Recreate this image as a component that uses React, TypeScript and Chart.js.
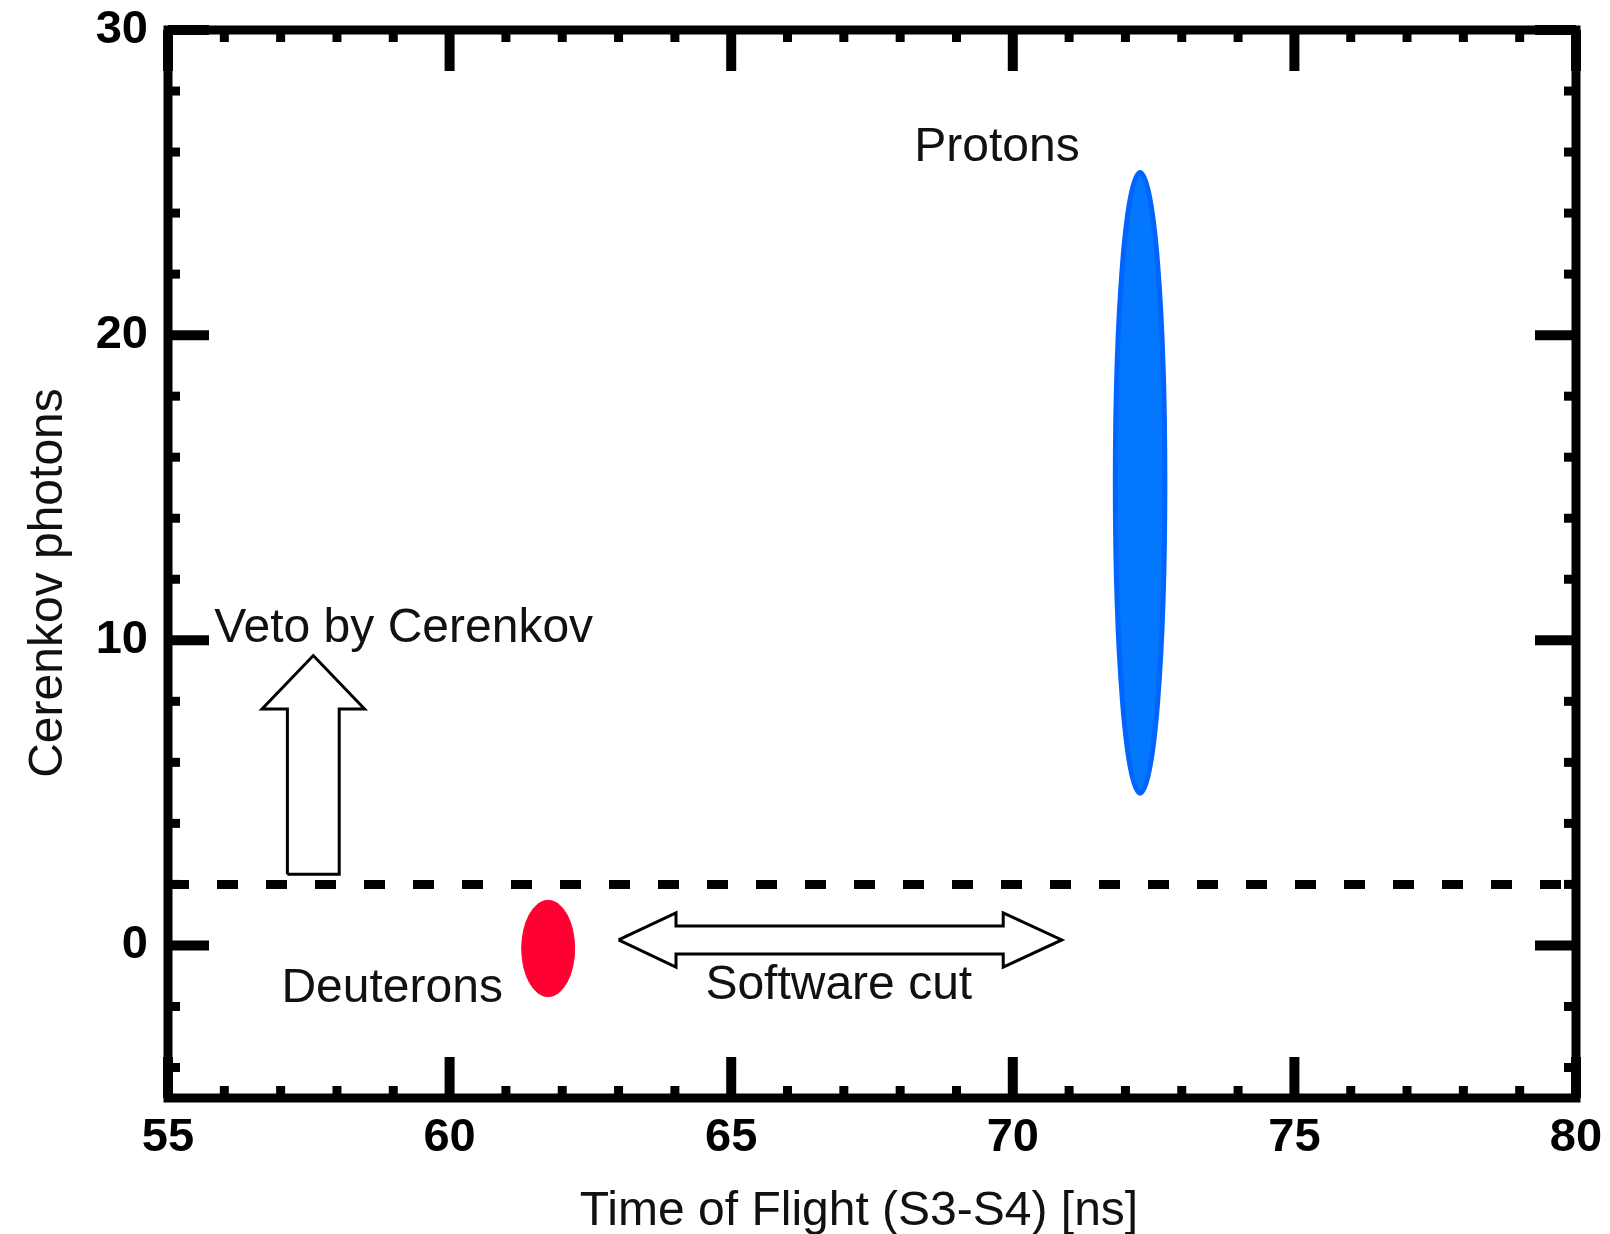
import { useEffect, useRef } from 'react';
import { Chart, registerables } from 'chart.js';

Chart.register(...registerables);

// ---- axes ----
const xLimits = [55, 80];
const yLimits = [-5, 30];
const xTickValues = [55, 60, 65, 70, 75, 80];
const yTickValues = [0, 10, 20, 30];
const xMinorStep = 1;
const yMinorStep = 2;
const xTitle = 'Time of Flight (S3-S4) [ns]';
const yTitle = 'Cerenkov photons';

// ---- Cerenkov veto threshold (dashed line) ----
const thresholdX = [55, 80];
const thresholdY = [2, 2];

// ---- particle populations (ellipses): centre and semi-axes in data units ----
const populationNames = ['Protons', 'Deuterons'];
const populationX = [72.26, 61.75];
const populationY = [15.16, -0.1];
const populationHalfWidth = [0.44, 0.47];
const populationHalfHeight = [10.17, 1.58];

// ---- "Veto by Cerenkov" arrow outline ----
const vetoArrowX = [57.12, 58.04, 58.04, 58.49, 57.58, 56.67, 57.12, 57.12];
const vetoArrowY = [2.33, 2.33, 7.75, 7.75, 9.5, 7.75, 7.75, 2.33];

// ---- "Software cut" double arrow outline ----
const cutArrowX = [63.0, 64.02, 64.02, 69.83, 69.83, 70.87, 69.83, 69.83, 64.02, 64.02, 63.0];
const cutArrowY = [0.18, 1.07, 0.64, 0.64, 1.07, 0.18, -0.71, -0.28, -0.28, -0.71, 0.18];

// ---- text labels ----
const labelTexts = ['Protons', 'Veto by Cerenkov', 'Deuterons', 'Software cut'];
const labelX = [69.72, 55.82, 58.98, 66.91];
const labelY = [25.7, 9.93, -1.84, -1.74];

// ---- styles ----
const populationStyle = [
  { fill: '#0477ff', stroke: '#0064ff', width: 5 },
  { fill: '#ff0033', stroke: '#ff0033', width: 1 },
];
const labelAlign: CanvasTextAlign[] = ['center', 'left', 'center', 'center'];
const TEXT_FONT = '48px "Liberation Sans", Arial, sans-serif';
const TEXT_COLOR = '#111';

const toPts = (xs: number[], ys: number[]) => xs.map((x, i) => ({ x, y: ys[i] }));

const ellipsePlugin = {
  id: 'populations',
  beforeDatasetsDraw(chart: any) {
    const { ctx } = chart;
    const xs = chart.scales.x;
    const ys = chart.scales.y;
    populationNames.forEach((_, i) => {
      const cx = xs.getPixelForValue(populationX[i]);
      const cy = ys.getPixelForValue(populationY[i]);
      const rx = Math.abs(xs.getPixelForValue(populationX[i] + populationHalfWidth[i]) - cx);
      const ry = Math.abs(ys.getPixelForValue(populationY[i] + populationHalfHeight[i]) - cy);
      const st = populationStyle[i];
      ctx.save();
      ctx.beginPath();
      ctx.ellipse(cx, cy, rx, ry, 0, 0, Math.PI * 2);
      ctx.fillStyle = st.fill;
      ctx.fill();
      ctx.lineWidth = st.width;
      ctx.strokeStyle = st.stroke;
      ctx.stroke();
      ctx.restore();
    });
  },
};

const labelPlugin = {
  id: 'labels',
  afterDatasetsDraw(chart: any) {
    const { ctx } = chart;
    const xs = chart.scales.x;
    const ys = chart.scales.y;
    ctx.save();
    ctx.font = TEXT_FONT;
    ctx.fillStyle = TEXT_COLOR;
    ctx.textBaseline = 'alphabetic';
    labelTexts.forEach((t, i) => {
      ctx.textAlign = labelAlign[i];
      ctx.fillText(t, xs.getPixelForValue(labelX[i]), ys.getPixelForValue(labelY[i]));
    });
    // axis titles
    const { left, right, top, bottom } = chart.chartArea;
    ctx.textAlign = 'center';
    ctx.fillText(xTitle, (left + right) / 2 - 13, 1225);
    ctx.translate(62, (top + bottom) / 2 + 19);
    ctx.rotate(-Math.PI / 2);
    ctx.fillText(yTitle, 0, 0);
    ctx.restore();
  },
};

const framePlugin = {
  id: 'frame',
  afterDraw(chart: any) {
    const { ctx } = chart;
    const { left, right, top, bottom } = chart.chartArea;
    const xs = chart.scales.x;
    const ys = chart.scales.y;
    const MAJOR = 41;
    const MINOR = 12;
    ctx.save();
    ctx.strokeStyle = '#000';
    ctx.lineCap = 'butt';
    const seg = (x1: number, y1: number, x2: number, y2: number) => {
      ctx.beginPath();
      ctx.moveTo(x1, y1);
      ctx.lineTo(x2, y2);
      ctx.stroke();
    };
    for (let v = xLimits[0]; v <= xLimits[1] + 1e-9; v += xMinorStep) {
      const major = xTickValues.includes(v);
      const px = xs.getPixelForValue(v);
      const len = major ? MAJOR : MINOR;
      ctx.lineWidth = major ? 10 : 9;
      seg(px, bottom, px, bottom - len);
      seg(px, top, px, top + len);
    }
    const yStart = Math.ceil(yLimits[0] / yMinorStep) * yMinorStep;
    for (let v = yStart; v <= yLimits[1] + 1e-9; v += yMinorStep) {
      const major = yTickValues.includes(v);
      const py = ys.getPixelForValue(v);
      const len = major ? MAJOR : MINOR;
      ctx.lineWidth = major ? 10 : 9;
      seg(left, py, left + len, py);
      seg(right, py, right - len, py);
    }
    ctx.lineWidth = 9;
    ctx.lineJoin = 'miter';
    ctx.strokeRect(left, top, right - left, bottom - top);
    ctx.restore();
  },
};

const tickFont = { family: '"Liberation Sans", Arial, sans-serif', size: 47, weight: 'bold' as const };

export default function App() {
  const ref = useRef<HTMLCanvasElement>(null);
  useEffect(() => {
    const canvas = ref.current;
    if (!canvas) return;
    const chart = new Chart(canvas, {
      type: 'scatter',
      data: {
        datasets: [
          {
            label: 'Cerenkov threshold',
            data: toPts(thresholdX, thresholdY),
            showLine: true,
            borderColor: '#000',
            borderWidth: 9,
            borderDash: [21, 28],
            borderCapStyle: 'butt',
            pointRadius: 0,
            fill: false,
          },
          {
            label: 'Veto by Cerenkov',
            data: toPts(vetoArrowX, vetoArrowY),
            showLine: true,
            borderColor: '#000',
            borderWidth: 3,
            borderJoinStyle: 'miter',
            pointRadius: 0,
            tension: 0,
            fill: false,
          },
          {
            label: 'Software cut',
            data: toPts(cutArrowX, cutArrowY),
            showLine: true,
            borderColor: '#000',
            borderWidth: 3,
            borderJoinStyle: 'miter',
            pointRadius: 0,
            tension: 0,
            fill: false,
          },
        ],
      },
      options: {
        responsive: false,
        animation: false,
        events: [],
        layout: { padding: { top: 30, right: 34, bottom: 0, left: 0 } },
        plugins: { legend: { display: false }, tooltip: { enabled: false } },
        scales: {
          x: {
            type: 'linear',
            min: xLimits[0],
            max: xLimits[1],
            grid: { display: false, drawTicks: false },
            border: { display: false },
            ticks: { font: tickFont, color: '#000', padding: 12, maxRotation: 0, autoSkip: false },
            afterBuildTicks: (s: any) => {
              s.ticks = xTickValues.map((v) => ({ value: v }));
            },
            afterFit: (s: any) => {
              s.height = 136;
              s.paddingLeft = 0;
              s.paddingRight = 0;
            },
          },
          y: {
            type: 'linear',
            min: yLimits[0],
            max: yLimits[1],
            grid: { display: false, drawTicks: false },
            border: { display: false },
            ticks: { font: tickFont, color: '#000', padding: 20, autoSkip: false },
            afterBuildTicks: (s: any) => {
              s.ticks = yTickValues.map((v) => ({ value: v }));
            },
            afterFit: (s: any) => {
              s.width = 168;
              s.paddingTop = 0;
              s.paddingBottom = 0;
            },
          },
        },
      } as any,
      plugins: [ellipsePlugin, labelPlugin, framePlugin],
    });
    return () => chart.destroy();
  }, []);
  return (
    <div style={{ position: 'fixed', left: 0, top: 0, width: 1610, height: 1234, background: '#fff' }}>
      <canvas ref={ref} width={1610} height={1234} style={{ display: 'block' }} />
    </div>
  );
}
